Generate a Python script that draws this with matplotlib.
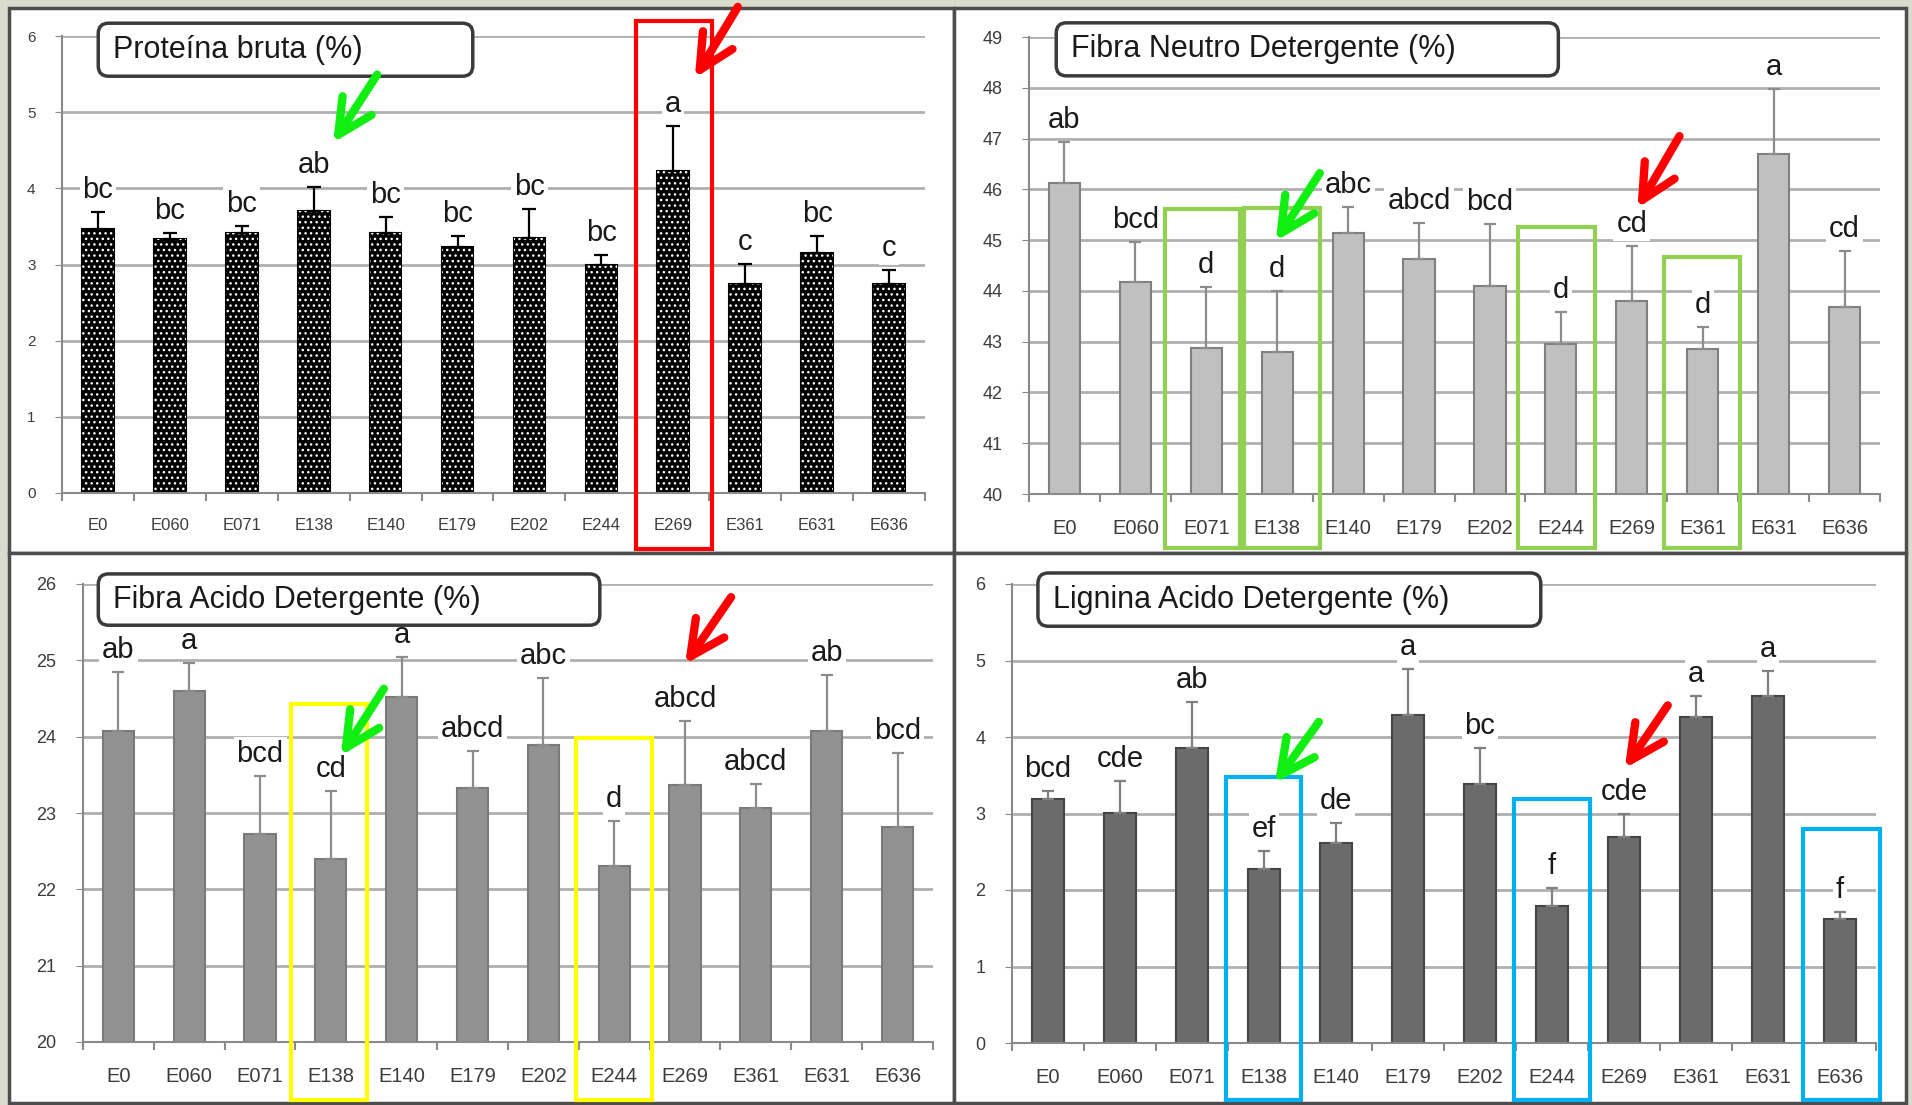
import numpy as np
import matplotlib.pyplot as plt
from matplotlib.patches import Rectangle, FancyBboxPatch
from matplotlib.transforms import blended_transform_factory

plt.rcParams['font.family'] = ['Liberation Sans', 'DejaVu Sans']

W, H = 1912, 1105

categories = ['E0', 'E060', 'E071', 'E138', 'E140', 'E179',
              'E202', 'E244', 'E269', 'E361', 'E631', 'E636']

protein_mean = [3.47, 3.34, 3.42, 3.70, 3.42, 3.23, 3.35, 2.99, 4.23, 2.74, 3.15, 2.75]
protein_err = [0.22, 0.08, 0.09, 0.32, 0.20, 0.15, 0.38, 0.14, 0.59, 0.27, 0.23, 0.18]
protein_letters = ['bc', 'bc', 'bc', 'ab', 'bc', 'bc', 'bc', 'bc', 'a', 'c', 'bc', 'c']

fdn_mean = [46.12, 44.17, 42.88, 42.80, 45.14, 44.63, 44.09, 42.95, 43.81, 42.86, 46.69, 43.68]
fdn_err = [0.81, 0.79, 1.19, 1.20, 0.51, 0.71, 1.23, 0.63, 1.08, 0.42, 1.29, 1.10]
fdn_letters = ['ab', 'bcd', 'd', 'd', 'abc', 'abcd', 'bcd', 'd', 'cd', 'd', 'a', 'cd']

fda_mean = [24.08, 24.60, 22.72, 22.40, 24.52, 23.33, 23.89, 22.30, 23.37, 23.06, 24.08, 22.82]
fda_err = [0.77, 0.37, 0.76, 0.89, 0.52, 0.48, 0.88, 0.59, 0.84, 0.32, 0.73, 0.96]
fda_letters = ['ab', 'a', 'bcd', 'cd', 'a', 'abcd', 'abc', 'd', 'abcd', 'abcd', 'ab', 'bcd']

lda_mean = [3.19, 3.01, 3.86, 2.28, 2.61, 4.29, 3.39, 1.79, 2.69, 4.26, 4.53, 1.62]
lda_err = [0.10, 0.41, 0.60, 0.23, 0.26, 0.60, 0.47, 0.24, 0.30, 0.27, 0.33, 0.09]
lda_letters = ['bcd', 'cde', 'ab', 'ef', 'de', 'a', 'bc', 'f', 'cde', 'a', 'a', 'f']


def px_rect(left, top, right, bottom):
    return [left / W, 1 - bottom / H, (right - left) / W, (bottom - top) / H]


def draw_panel(fig, box, mean, err, letters, title, ylim, style):
    ax = fig.add_axes(px_rect(*box))
    ax.set_facecolor('white')
    x = np.arange(len(categories))
    if style['hatch']:
        ax.bar(x, mean, 0.44, color='black', edgecolor='black', linewidth=1.5, zorder=2)
        ax.bar(x, mean, 0.44, color='none', edgecolor='white', hatch='...', linewidth=0, zorder=2)
    else:
        ax.bar(x, mean, 0.44, color=style['fill'], edgecolor=style['edge'], linewidth=1.5, zorder=2)
    ax.errorbar(x, mean, yerr=[np.zeros(len(err)), err], fmt='none', ecolor=style['ecolor'],
                elinewidth=1.6, capsize=style['capsize'], capthick=1.6, zorder=3)
    for i, lab in enumerate(letters):
        ax.annotate(lab, (x[i], mean[i] + err[i]), xytext=(0, 14), textcoords='offset pixels',
                    ha='center', va='baseline', fontsize=21, color='#1a1a1a', zorder=4,
                    bbox=dict(boxstyle='square,pad=0.1', fc='white', ec='none'))

    ax.set_xlim(-0.5, len(categories) - 0.5)
    ax.set_ylim(*ylim)
    ax.set_yticks(np.arange(ylim[0], ylim[1] + 1, 1))
    ax.set_xticks(x)
    ax.set_xticklabels(categories)
    ax.set_xticks(np.arange(-0.5, len(categories), 1), minor=True)
    ax.grid(axis='y', color='#b0b0b0', linewidth=2, zorder=0)
    ax.set_axisbelow(True)
    for s in ['top', 'right']:
        ax.spines[s].set_visible(False)
    ax.spines['left'].set_color('#8a8a8a')
    ax.spines['bottom'].set_color('#8a8a8a')
    ax.spines['left'].set_linewidth(1.5)
    ax.spines['bottom'].set_linewidth(1.5)
    ax.tick_params(axis='x', which='major', length=0, pad=18,
                   labelsize=style['xsize'], labelcolor='#3c3c3c')
    ax.tick_params(axis='x', which='minor', length=6, color='#8a8a8a', width=1.5)
    ax.tick_params(axis='y', length=5, color='#8a8a8a', pad=14,
                   labelsize=style['ysize'], labelcolor='#3c3c3c')

    tb = style['titlebox']
    aspect = (box[2] - box[0]) / (box[3] - box[1])
    ax.add_patch(FancyBboxPatch((tb[0], tb[3]), tb[1] - tb[0], tb[2] - tb[3],
                                boxstyle='round,pad=0,rounding_size=0.012', mutation_aspect=aspect,
                                transform=ax.transAxes, fc='white', ec='#3a3a3a', lw=2.5,
                                clip_on=False, zorder=5))
    ax.text(style['title_x'], (tb[2] + tb[3]) / 2, title, transform=ax.transAxes,
            ha='left', va='center', fontsize=22, color='#1a1a1a', zorder=6)
    return ax


def highlight(ax, x0, x1, top, bottom, color):
    trans = blended_transform_factory(ax.transData, ax.transAxes)
    ax.add_patch(Rectangle((x0, bottom), x1 - x0, top - bottom, transform=trans, fill=False,
                           ec=color, lw=3, clip_on=False, zorder=7))


def arrow(ax, tip, off, color):
    ax.annotate('', xy=tip, xytext=off, textcoords='offset pixels',
                arrowprops=dict(arrowstyle='->,head_length=1.25,head_width=0.62', mutation_scale=20,
                                color=color, lw=6, shrinkA=0, shrinkB=0,
                                capstyle='round', joinstyle='round'),
                zorder=8, annotation_clip=False)


fig = plt.figure(figsize=(W / 100, H / 100), dpi=100, facecolor='#d9dccc')

for p in [(9, 8, 954, 553), (954, 8, 1906, 553), (9, 553, 954, 1103), (954, 553, 1906, 1103)]:
    fig.patches.append(Rectangle((p[0] / W, 1 - p[3] / H), (p[2] - p[0]) / W, (p[3] - p[1]) / H,
                                 transform=fig.transFigure, fc='white', ec='#4d4d4d', lw=2.5, zorder=-1))

ax1 = draw_panel(fig, (62, 36, 925, 493), protein_mean, protein_err, protein_letters,
                 'Proteína bruta (%)', (0, 6),
                 dict(hatch=True, ecolor='black', capsize=5, xsize=12, ysize=11,
                      titlebox=(0.042, 0.476, 1.028, 0.912), title_x=0.059))
ax2 = draw_panel(fig, (1029, 37, 1880, 494), fdn_mean, fdn_err, fdn_letters,
                 'Fibra Neutro Detergente (%)', (40, 49),
                 dict(hatch=False, fill='#c0c0c0', edge='#808080', ecolor='#8c8c8c', capsize=4,
                      xsize=14.5, ysize=13, titlebox=(0.032, 0.622, 1.031, 0.915), title_x=0.049))
ax3 = draw_panel(fig, (83, 584, 933, 1042), fda_mean, fda_err, fda_letters,
                 'Fibra Acido Detergente (%)', (20, 26),
                 dict(hatch=False, fill='#929292', edge='#7a7a7a', ecolor='#8c8c8c', capsize=4,
                      xsize=14.5, ysize=13, titlebox=(0.018, 0.608, 1.022, 0.910), title_x=0.035))
ax4 = draw_panel(fig, (1012, 584, 1876, 1043), lda_mean, lda_err, lda_letters,
                 'Lignina Acido Detergente (%)', (0, 6),
                 dict(hatch=False, fill='#6b6b6b', edge='#454545', ecolor='#7f7f7f', capsize=4,
                      xsize=14.5, ysize=13, titlebox=(0.030, 0.612, 1.024, 0.908), title_x=0.047))

# colored boxes around selected bars
highlight(ax1, 7.48, 8.54, 1.033, -0.123, '#ff0000')
for x0, x1, top in [(1.42, 2.48, 0.624), (2.53, 3.60, 0.626), (6.40, 7.48, 0.584), (8.46, 9.53, 0.519)]:
    highlight(ax2, x0, x1, top, -0.118, '#92d050')
for x0, x1, top in [(2.44, 3.51, 0.738), (6.46, 7.54, 0.664)]:
    highlight(ax3, x0, x1, top, -0.127, '#ffff00')
for x0, x1, top in [(2.47, 3.51, 0.580), (6.47, 7.53, 0.532), (10.49, 11.56, 0.466)]:
    highlight(ax4, x0, x1, top, -0.124, '#00b0f0')

arrow(ax1, (3.27, 4.60), (44, 68), '#11ee11')
arrow(ax1, (8.30, 5.45), (43, 71), '#ff0000')
arrow(ax2, (2.98, 44.98), (44, 68), '#11ee11')
arrow(ax2, (8.08, 45.63), (42, 72), '#ff0000')
arrow(ax3, (3.14, 23.75), (43, 67), '#11ee11')
arrow(ax3, (8.00, 24.95), (46, 67), '#ff0000')
arrow(ax4, (3.15, 3.40), (44, 61), '#11ee11')
arrow(ax4, (8.01, 3.59), (43, 63), '#ff0000')

plt.savefig('out.png', dpi=100, facecolor=fig.get_facecolor())
